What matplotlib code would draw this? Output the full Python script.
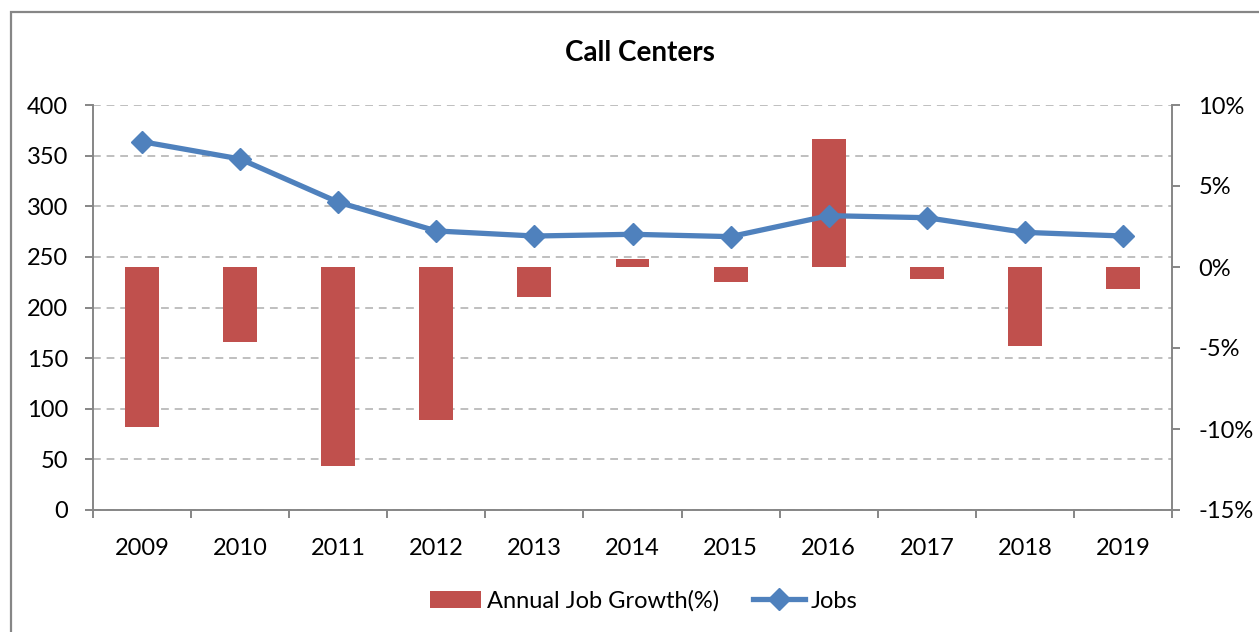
import matplotlib
import matplotlib.pyplot as plt
from matplotlib.patches import Rectangle
import numpy as np

matplotlib.use("Agg")
plt.rcParams["font.family"] = ["Lato", "DejaVu Sans"]

years = ["2009", "2010", "2011", "2012", "2013", "2014",
         "2015", "2016", "2017", "2018", "2019"]
jobs = [363.8, 346.7, 304.0, 275.6, 270.6, 272.3,
        270.0, 290.7, 288.7, 274.2, 270.6]
growth = [-9.88, -4.6, -12.3, -9.45, -1.85, 0.47,
          -0.93, 7.93, -0.72, -4.9, -1.34]

bar_color = "#C0504D"
line_color = "#4F81BD"
axis_gray = "#868686"
grid_gray = "#BFBFBF"
fs = 17

fig = plt.figure(figsize=(12.59, 6.32), dpi=100)
x = np.arange(len(years))

# back axes: left scale, grid, spines
ax = fig.add_axes([93 / 1259, 1 - 510 / 632, (1172 - 93) / 1259, (510 - 105) / 632])
ax.set_xlim(-0.5, len(years) - 0.5)
ax.set_ylim(0, 400)
ax.set_yticks(range(0, 401, 50))
ax.yaxis.grid(True, linestyle=(0, (4, 3)), color=grid_gray, linewidth=1.4)
ax.set_axisbelow(True)
ax.set_xticks(np.arange(-0.5, len(years)), labels=[""] * (len(years) + 1))
ax.set_xticks(x, labels=years, minor=True)
ax.tick_params(axis="x", which="major", direction="out", length=6,
               width=1.4, color=axis_gray)
ax.tick_params(axis="x", which="minor", length=0, pad=20, labelsize=fs)
ax.tick_params(axis="y", direction="out", length=6, width=1.4,
               color=axis_gray, labelsize=fs, pad=12)
for side in ["top", "right"]:
    ax.spines[side].set_visible(False)
for side in ["left", "bottom"]:
    ax.spines[side].set_color(axis_gray)
    ax.spines[side].set_linewidth(1.4)

# bars on the right scale
ax2 = ax.twinx()
ax2.bar(x, growth, width=0.345, color=bar_color, label="Annual Job Growth(%)")
ax2.set_ylim(-15, 10)
ax2.set_yticks(range(-15, 11, 5), labels=[f"{v}%" for v in range(-15, 11, 5)])
ax2.tick_params(axis="y", direction="out", length=6, width=1.4,
                color=axis_gray, labelsize=fs, pad=13)
for side in ["top", "left", "bottom"]:
    ax2.spines[side].set_visible(False)
ax2.spines["right"].set_color(axis_gray)
ax2.spines["right"].set_linewidth(1.4)

# line on top
ax3 = ax.twinx()
ax3.set_ylim(0, 400)
ax3.plot(x, jobs, color=line_color, linewidth=3.8, marker="D",
         markersize=11, label="Jobs")
ax3.axis("off")

fig.text(0.508, 1 - 53 / 632, "Call Centers", ha="center", va="center",
         fontsize=20, fontweight="bold")

h1, l1 = ax2.get_legend_handles_labels()
h2, l2 = ax3.get_legend_handles_labels()
fig.legend(h1 + h2, l1 + l2, loc="center", bbox_to_anchor=(0.511, 1 - 601 / 632),
           ncol=2, frameon=False, fontsize=fs, handlelength=2.2,
           handletextpad=0.25, columnspacing=1.4)

# chart border (extends past right and bottom edge)
fig.patches.append(Rectangle((11 / 1259, -0.1), 1.2, 0.1 + (632 - 12) / 632,
                             transform=fig.transFigure, fill=False,
                             edgecolor=axis_gray, linewidth=1.6))

fig.savefig("out.png", dpi=100)
